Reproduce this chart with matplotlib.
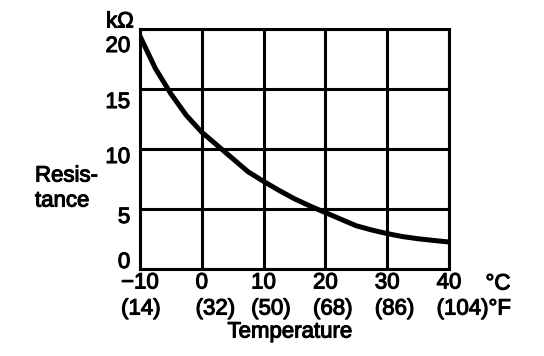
import matplotlib
matplotlib.use('Agg')
import matplotlib.pyplot as plt
import matplotlib.transforms as mtransforms
import matplotlib.patheffects as pe

temp_c = [-10, -7.5, -5, -2.5, 0, 2.5, 5, 7.5, 10, 12.5, 15, 17.5, 20,
          22.5, 25, 27.5, 30, 32.5, 35, 37.5, 40]
resist = [19.4, 16.7, 14.6, 12.8, 11.4, 10.3, 9.2, 8.1, 7.3, 6.55, 5.85, 5.25, 4.7,
          4.15, 3.6, 3.25, 2.95, 2.7, 2.52, 2.38, 2.25]

c_ticks = [-10, 0, 10, 20, 30, 40]
f_labels = ['(14)', '(32)', '(50)', '(68)', '(86)', '(104)°F']
r_ticks = [0, 5, 10, 15, 20]

plt.rcParams['font.family'] = ['Liberation Sans', 'DejaVu Sans']
plt.rcParams['font.size'] = 16

W, H = 544, 356
fig = plt.figure(figsize=(W / 100, H / 100), dpi=100)
ax = fig.add_axes([140 / W, 1 - 269 / H, 309 / W, 240 / H])

ax.plot(temp_c, resist, color='black', lw=3.6, solid_capstyle='butt', solid_joinstyle='round')

ax.set_xlim(-10, 40)
ax.set_ylim(0, 20)
ax.set_xticks(c_ticks)
ax.set_xticklabels([str(c).replace('-', '\u2212') for c in c_ticks])
ax.set_yticks(r_ticks)
ax.grid(True, color='black', lw=2.2)
for s in ax.spines.values():
    s.set_linewidth(2.2)
ax.tick_params(length=0)
ax.tick_params(axis='x', pad=2.5)
ax.tick_params(axis='y', pad=7)

# the printed y labels sit a little below their lines
shift_px = [9, -6, -6, -11, -15]
for lab, dy in zip(ax.get_yticklabels(), shift_px):
    lab.set_transform(lab.get_transform() + mtransforms.ScaledTranslation(0, dy / 100, fig.dpi_scale_trans))

texts = []
texts.append(fig.text(120 / W, 1 - 22 / H, 'kΩ', ha='center', va='center'))
texts.append(fig.text(35 / W, 1 - 176 / H, 'Resis-', ha='left', va='center'))
texts.append(fig.text(35 / W, 1 - 201 / H, 'tance', ha='left', va='center'))
texts.append(fig.text(290 / W, 1 - 332 / H, 'Temperature', ha='center', va='center'))
texts.append(fig.text(498 / W, 1 - 284 / H, '°C', ha='center', va='center'))

# Fahrenheit labels start where the Celsius labels start
fig.canvas.draw()
r = fig.canvas.get_renderer()
for lab, f in zip(ax.get_xticklabels(), f_labels):
    bb = lab.get_window_extent(r)
    texts.append(fig.text(bb.x0 / W, 1 - 309 / H, f, ha='left', va='center'))

# scanned print looks heavier than the regular face
heavy = [pe.withStroke(linewidth=0.8, foreground='black')]
for t in texts + ax.get_xticklabels() + ax.get_yticklabels():
    t.set_path_effects(heavy)

fig.savefig('out.png', dpi=100)
